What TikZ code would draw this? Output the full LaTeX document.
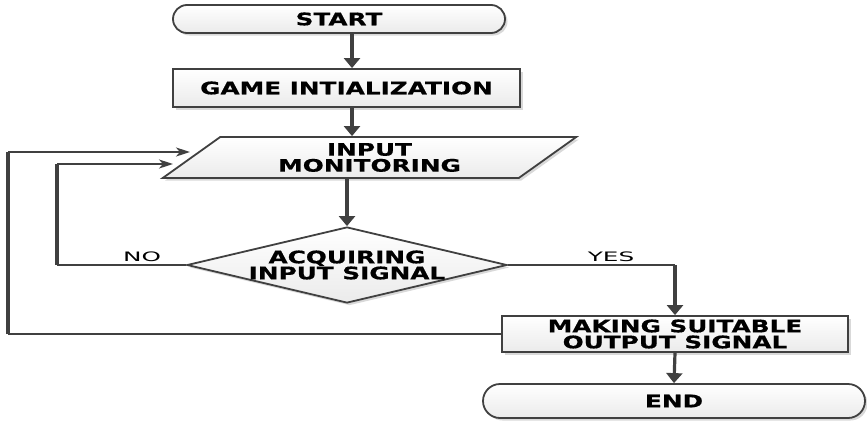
\documentclass[tikz,border=0pt]{standalone}
\usepackage{fontspec}
\usetikzlibrary{arrows.meta,shapes.geometric,shadows}
\newfontfamily\boxfont[FakeStretch=1.43,FakeBold=0.6]{DejaVu Sans Bold}
\newfontfamily\lblfont[FakeStretch=1.9]{DejaVu Sans}
\definecolor{edgegray}{HTML}{404040}
\begin{document}
\begin{tikzpicture}[x=1pt,y=-1pt,
  shp/.style={draw=edgegray, line width=1.8pt, top color=white, bottom color=gray!16,
    drop shadow={shadow xshift=2.5pt,shadow yshift=-2.5pt,opacity=0.3,fill=gray},
    inner sep=0pt, align=center, text=black,
    font=\boxfont\fontsize{17.3}{16}\selectfont},
  pill/.style={shp, rectangle},
  procbox/.style={shp, rectangle},
  vflow/.style={draw=edgegray, line width=3.2pt, -{Triangle[width=16pt,length=10pt]}},
  hloop/.style={draw=edgegray, line width=2pt},
  vloop/.style={draw=edgegray, line width=3.4pt},
  hin/.style={draw=edgegray, line width=2pt, -{Stealth[width=9pt,length=14pt,inset=4pt]}},
  lbl/.style={font=\lblfont\fontsize{13}{13}\selectfont, text=black, inner sep=1pt}]
\useasboundingbox (0,0) rectangle (867,421);

% nodes
\node[pill, rounded corners=14pt, minimum width=332pt, minimum height=28pt] (start) at (339,19) {START};
\node[procbox, minimum width=347pt, minimum height=38pt] (game) at (346.5,88) {GAME INTIALIZATION};
\node[shp, trapezium, trapezium stretches=true, trapezium left angle=39.35, trapezium right angle=140.65,
      minimum width=415pt, minimum height=41pt] (pm) at (369.5,157.5) {INPUT\\MONITORING};
\node[shp, diamond, aspect=4.2, minimum width=320pt, minimum height=76pt] (dia) at (347,265) {ACQUIRING\\INPUT SIGNAL};
\node[procbox, minimum width=346pt, minimum height=36pt] (make) at (675,334) {MAKING SUITABLE\\OUTPUT SIGNAL};
\node[pill, rounded corners=17pt, minimum width=382pt, minimum height=34pt] (end) at (674,401) {END};

\node[lbl, anchor=south] (no) at (142,263) {NO};
\node[lbl, anchor=south] (yes) at (611,263) {YES};

% spine coordinates
\coordinate (spine) at (352,0);
\coordinate (nocorner) at (57,265);
\coordinate (noend) at (173,164);
\coordinate (outcorner) at (8,334);
\coordinate (outend) at (190,152);

% main flow
\draw[vflow] (start.south -| spine) -- (game.north -| spine);
\draw[vflow] (game.south -| spine) -- (pm.north -| spine);
\draw[vflow] (pm.south -| dia.north) -- (dia.north);
\draw[hloop] (dia.east) -- (dia.east -| make.north);
\draw[vflow] (dia.east -| make.north) -- (make.north);
\draw[vflow] (make.south) -- (end.north);

% NO loop
\draw[hloop] (dia.west) -- (nocorner);
\draw[vloop] (nocorner) -- (nocorner |- noend);
\draw[hin] (nocorner |- noend) -- (noend);

% outer loop
\draw[hloop] (make.west) -- (outcorner);
\draw[vloop] (outcorner) -- (outcorner |- outend);
\draw[hin] (outcorner |- outend) -- (outend);
\end{tikzpicture}
\end{document}
